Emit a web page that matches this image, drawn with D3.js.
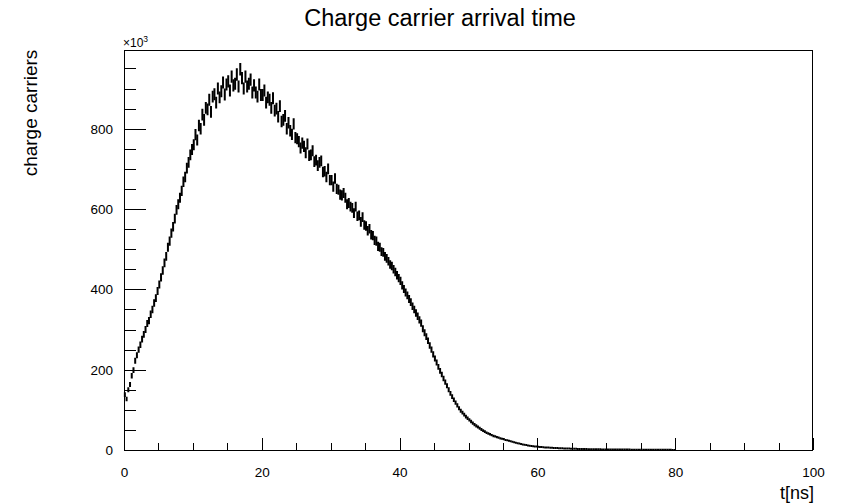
<!DOCTYPE html>
<html><head><meta charset="utf-8">
<script src="https://cdn.jsdelivr.net/npm/d3@7"></script>
<style>
body{margin:0;background:#fff}
svg{display:block}
text{font-family:"Liberation Sans",Arial,Helvetica,sans-serif;fill:#000}
</style>
</head><body>
<svg id="c" width="850" height="503"></svg>
<script>
// histogram: bin width 0.25 ns starting at 0 ns, counts in units of 10^3
const binStart = 0;
const binWidth = 0.25;
const counts = [
 138,127,150,163, 185,199,222,236, 250,262,276,288, 300,315,322,338, 350,366,378,396,
 412,430,447,466, 482,505,520,540, 556,576,598,612, 628,645,668,680, 702,716,735,748,
 760,785,772,808, 800,835,822,852, 848,872,842,880, 886,865,900,878, 893,915,885,910,
 918,895,930,908, 912,935,905,948, 926,900,930,905, 912,922,890,908, 890,880,910,884,
 884,895,865,878, 872,852,876,845, 850,830,856,818, 822,832,800,815, 795,786,812,778,
 775,768,752,764, 756,740,762,733, 735,745,718,722, 708,716,720,692, 694,680,700,672,
 672,656,676,650, 648,636,634,640, 628,612,615,606, 603,590,606,582, 584,568,580,560,
 558,546,551,536, 534,522,520,507, 505,494,492,482, 477,470,462,458, 450,443,435,428,
 421,410,401,392, 385,376,368,358, 350,341,333,324, 316,302,292,282, 272,260,250,238,
 228,218,207,197, 188,178,169,160, 150,141,133,125, 118,111,104,98, 93,88,83,79,
 75,71,67,63, 60,57,54,51, 48,46,43,41, 39,37,35,34, 32,31,29,28,
 27,25,24,23, 22,20.5,19,18, 17,16,15,14, 13,12.2,11.4,10.6, 10,9.5,9,8.5,
 8,7.6,7.2,6.8, 6.5,6.2,6,5.7, 5.5,5.2,5,4.7, 4.5,4.3,4.1,3.9, 3.8,3.6,3.5,3.3,
 3.2,3.0,2.9,2.7, 2.6,2.5,2.4,2.3, 2.2,2.1,2.0,1.95, 1.9,1.8,1.7,1.65, 1.6,1.55,1.5,1.45,
 1.4,1.35,1.3,1.25, 1.2,1.15,1.15,1.1, 1.1,1.05,1.0,1.0, 1.0,0.95,0.9,0.9, 0.9,0.85,0.8,0.8,
 0.8,0.75,0.7,0.7, 0.7,0.65,0.6,0.6, 0.6,0.55,0.5,0.5, 0.5,0.45,0.4,0.4, 0.4,0.35,0.3,0.3
];
const xMajorTicks = [0,20,40,60,80,100];
const yMajorTicks = [0,200,400,600,800];
const xDomain = [0,100];
const yDomain = [0,996];
const titleText = "Charge carrier arrival time";
const xTitle = "t[ns]";
const yTitle = "charge carriers";
const yExponent = "3";

const svg = d3.select("#c");
const L=124, R=813, T=50, B=450;
const x = d3.scaleLinear().domain(xDomain).range([L,R]);
const y = d3.scaleLinear().domain(yDomain).range([B,T]);

const xMinor = d3.range(0,101,5).filter(v=>!xMajorTicks.includes(v));
const yMinor = d3.range(0,996,50).filter(v=>!yMajorTicks.includes(v));

svg.append("g").attr("transform",`translate(0,${B})`)
  .call(d3.axisBottom(x).tickValues(xMajorTicks).tickSize(-12).tickSizeOuter(0).tickPadding(17).tickFormat(d3.format("d")));
svg.append("g").attr("transform",`translate(0,${B})`)
  .call(d3.axisBottom(x).tickValues(xMinor).tickSize(-7).tickSizeOuter(0).tickFormat(""));
svg.append("g").attr("transform",`translate(${L},0)`)
  .call(d3.axisLeft(y).tickValues(yMajorTicks).tickSize(-22).tickSizeOuter(0).tickPadding(11).tickFormat(d3.format("d")));
svg.append("g").attr("transform",`translate(${L},0)`)
  .call(d3.axisLeft(y).tickValues(yMinor).tickSize(-12).tickSizeOuter(0).tickFormat(""));
svg.selectAll(".domain").remove();
svg.selectAll(".tick line").attr("stroke","#000").attr("stroke-width",1).attr("shape-rendering","crispEdges");
svg.selectAll(".tick text").attr("font-size",13.5).attr("font-family","Liberation Sans, Arial, sans-serif").attr("fill","#000");

// frame
svg.append("rect").attr("x",L+0.5).attr("y",T+0.5).attr("width",R-L-1).attr("height",B-T)
  .attr("fill","none").attr("stroke","#000").attr("stroke-width",1);

// histogram with error bars
const bins = counts.map((v,i)=>({x0:binStart+i*binWidth, x1:binStart+(i+1)*binWidth, v, e:0.5*Math.sqrt(v)}));
svg.append("g").selectAll("path").data(bins.filter(d=>d.v>0)).join("path")
  .attr("d",d=>{
    const xc=(x(d.x0)+x(d.x1))/2;
    return `M${x(d.x0)},${y(d.v)}H${x(d.x1)}M${xc},${y(d.v+d.e)}V${y(Math.max(0,d.v-d.e))}`;
  })
  .attr("fill","none").attr("stroke","#000").attr("stroke-width",2);

// texts
svg.append("text").attr("x",440).attr("y",26).attr("text-anchor","middle").attr("font-size",23.5).text(titleText);
svg.append("text").attr("x",814).attr("y",499).attr("text-anchor","end").attr("font-size",18).text(xTitle);
svg.append("text").attr("transform","translate(37,113) rotate(-90)").attr("text-anchor","middle").attr("font-size",19).text(yTitle);
const ex = svg.append("text").attr("x",123).attr("y",47).attr("font-size",12);
ex.append("tspan").text("\u00d710");
ex.append("tspan").attr("dy",-5).attr("font-size",8.5).text(yExponent);
</script>
</body></html>
